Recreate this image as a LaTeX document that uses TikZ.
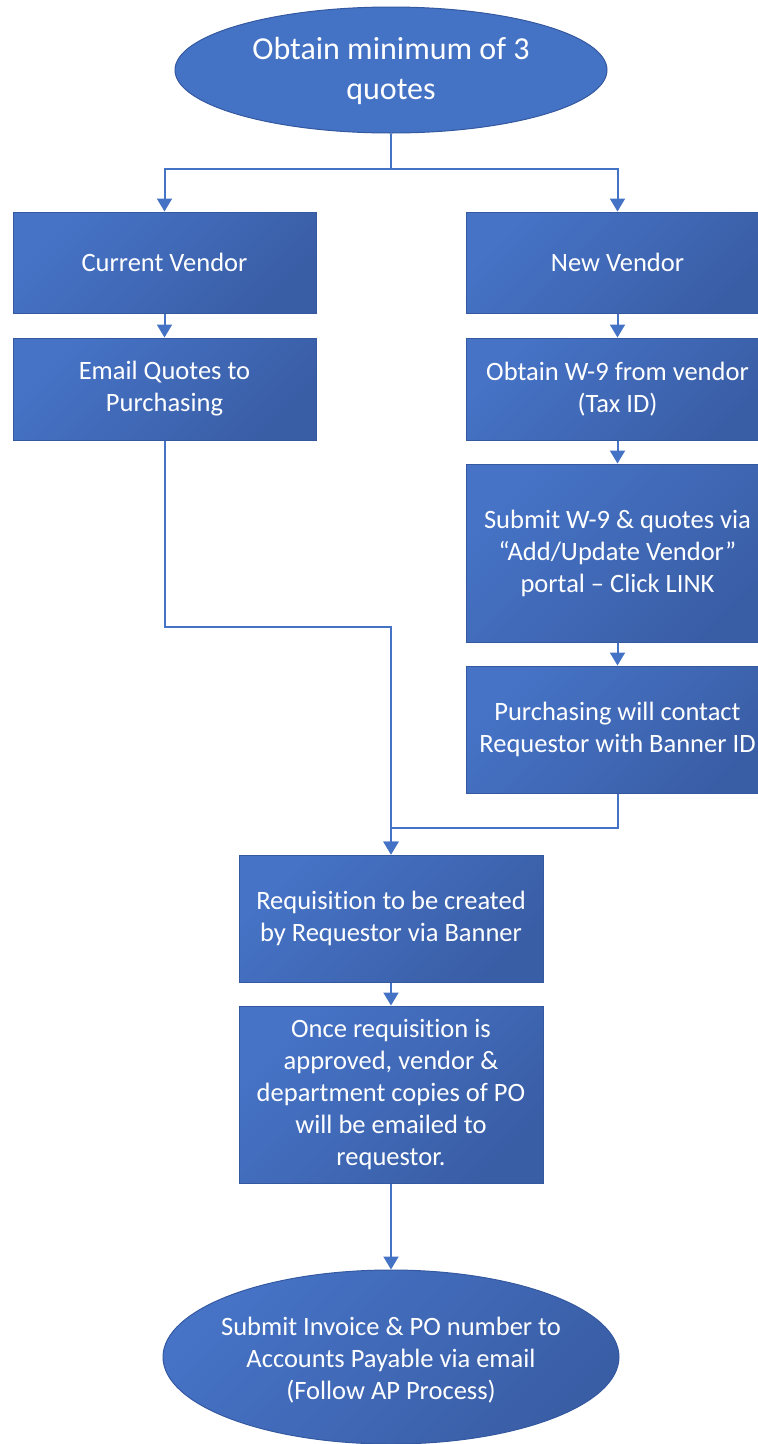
\documentclass[tikz,border=0pt]{standalone}
\usepackage{fontspec}
\setmainfont{Carlito}[Ligatures=NoCommon]
\usetikzlibrary{arrows.meta,shapes.geometric}
\definecolor{blu}{HTML}{4472C4}
\definecolor{bluLight}{HTML}{4673C6}
\definecolor{bluDark}{HTML}{3A5EA6}
\definecolor{bord}{HTML}{3559A0}
\tikzset{
  stepbox/.style={rectangle, draw=bord, line width=1pt, top color=bluLight, bottom color=bluDark, shading angle=45, inner sep=0pt, text=white, align=center, font=\fontsize{26.5}{32}\selectfont},
  ovalshape/.style={ellipse, draw=bord, line width=1pt, inner sep=0pt},
  ovaltext/.style={text=white, align=center, inner sep=0pt},
  conn/.style={draw=blu, line width=2pt},
  arr/.style={conn, -{Triangle[width=15pt,length=13pt]}}
}
\begin{document}
\begin{tikzpicture}[x=1pt,y=-1pt]
\useasboundingbox (0,0) rectangle (758,1444);
% top ellipse
\node[ovalshape, fill=blu, minimum width=432pt, minimum height=126pt] (top) at (391,70) {};
\node[ovaltext, font=\fontsize{32}{40}\selectfont] (toptext) at (391,71) {Obtain minimum of 3\\quotes};
% boxes
\node[stepbox, minimum width=303pt, minimum height=101pt] (cv) at (164.5,262.5) {Current Vendor};
\node[stepbox, minimum width=303pt, minimum height=101pt] (nv) at (617.5,262.5) {New Vendor};
\node[stepbox, minimum width=303pt, minimum height=102pt] (eq) at (164.5,389) {Email Quotes to\\Purchasing};
\node[stepbox, minimum width=303pt, minimum height=102pt] (w9) at (617.5,389) {Obtain W-9 from vendor\\(Tax ID)};
\node[stepbox, minimum width=303pt, minimum height=178pt] (sub) at (617.5,553) {Submit W-9 \& quotes via\\“Add/Update Vendor”\\portal – Click LINK};
\node[stepbox, minimum width=303pt, minimum height=127pt] (pur) at (617.5,729.5) {Purchasing will contact\\Requestor with Banner ID};
\node[stepbox, minimum width=304pt, minimum height=127pt] (req) at (391,918.5) {Requisition to be created\\by Requestor via Banner};
\node[stepbox, minimum width=304pt, minimum height=177pt] (once) at (391,1094.5) {Once requisition is\\approved, vendor \&\\department copies of PO\\will be emailed to\\requestor.};
% bottom ellipse
\node[ovalshape, top color=bluLight, bottom color=bluDark, shading angle=45, minimum width=456pt, minimum height=174pt] (fin) at (391,1357) {};
\node[ovaltext, font=\fontsize{26.5}{32}\selectfont] (fintext) at (391,1360) {Submit Invoice \& PO number to\\Accounts Payable via email\\(Follow AP Process)};
% connectors
\coordinate (sp) at (391,169);
\coordinate (m1) at (391,627);
\coordinate (m2) at (391,828);
\draw[conn] (top.south) -- (sp);
\draw[arr] (sp) -| (cv.north);
\draw[arr] (sp) -| (nv.north);
\draw[arr] (cv) -- (eq);
\draw[arr] (nv) -- (w9);
\draw[arr] (w9) -- (sub);
\draw[arr] (sub) -- (pur);
\draw[arr] (eq.south) |- (m1) -- (req.north);
\draw[arr] (pur.south) |- (m2) -- (req.north);
\draw[arr] (req) -- (once);
\draw[arr] (once) -- (fin);
\end{tikzpicture}
\end{document}
